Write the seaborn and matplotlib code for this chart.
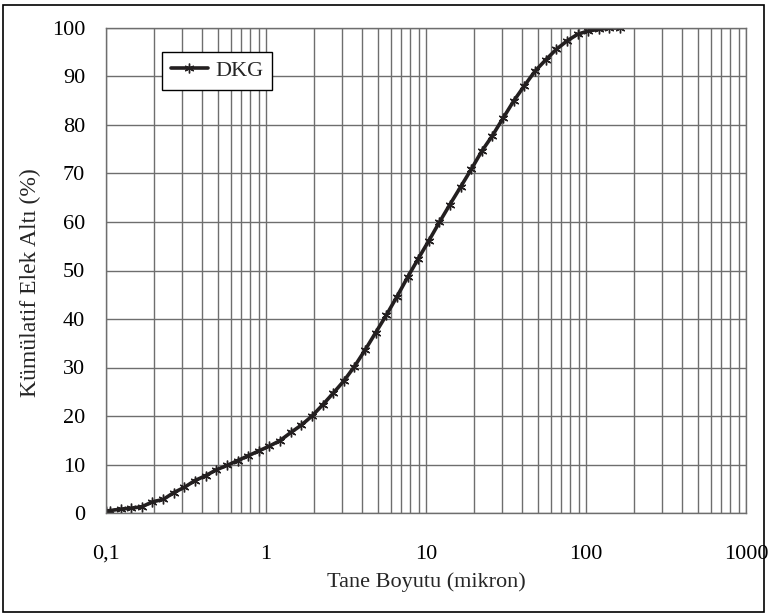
import matplotlib
matplotlib.use("Agg")
import matplotlib.pyplot as plt
import matplotlib.patches as patches
from matplotlib.ticker import FixedLocator, NullFormatter
import seaborn as sns
import pandas as pd

# datos (tamaño de particula en micras y % acumulado)
tane_boyutu = [0.1, 0.106, 0.1235, 0.144, 0.168, 0.195, 0.228, 0.265, 0.309, 0.360,
               0.420, 0.489, 0.570, 0.664, 0.774, 0.902, 1.05, 1.22, 1.43, 1.66,
               1.94, 2.26, 2.63, 3.06, 3.57, 4.16, 4.85, 5.65, 6.58, 7.67,
               8.93, 10.4, 12.1, 14.1, 16.5, 19.2, 22.4, 26.0, 30.3, 35.4,
               41.2, 48.0, 55.9, 65.2, 75.9, 88.5, 103.1, 120.1, 140.0, 163.1]
kumulatif = [0.4, 0.5, 0.8, 1.0, 1.3, 2.3, 2.8, 4.2, 5.3, 6.7,
             7.7, 8.9, 9.8, 10.8, 11.8, 12.8, 13.8, 14.9, 16.6, 18.1,
             20.0, 22.3, 24.7, 27.2, 30.2, 33.6, 37.2, 40.8, 44.6, 48.6,
             52.4, 56.1, 59.9, 63.6, 67.3, 70.9, 74.7, 77.8, 81.4, 85.0,
             88.1, 91.1, 93.4, 95.6, 97.3, 98.7, 99.4, 99.7, 100.0, 100.0]
seri_adi = "DKG"

x_ticks = [0.1, 1, 10, 100, 1000]
x_tick_labels = ["0,1", "1", "10", "100", "1000"]
y_ticks = list(range(0, 101, 10))

df = pd.DataFrame({"x": tane_boyutu, "y": kumulatif})

sns.set_theme(style="white")
plt.rcParams['font.family'] = ['Liberation Serif', 'DejaVu Serif']

fig = plt.figure(figsize=(7.68, 6.15), dpi=100)
ax = fig.add_axes([106 / 768, 1 - 513 / 615, 640 / 768, 485 / 615])

grid_color = "#6e6e6e"
sns.lineplot(data=df, x="x", y="y", ax=ax, color="#231f20", linewidth=2.6,
             marker=(6, 2, 0), markersize=7, markeredgewidth=1.0,
             markeredgecolor="#231f20", label=seri_adi, sort=False)

ax.set_xscale("log")
ax.set_xlim(0.1, 1000)
ax.set_ylim(0, 100)

ax.xaxis.set_major_locator(FixedLocator(x_ticks))
ax.set_xticklabels(x_tick_labels)
minor = [m * 10 ** e for e in range(-1, 3) for m in range(2, 10)]
ax.xaxis.set_minor_locator(FixedLocator(minor))
ax.xaxis.set_minor_formatter(NullFormatter())
ax.set_yticks(y_ticks)

ax.grid(True, which="both", axis="x", color=grid_color, linewidth=1.0)
ax.grid(True, which="major", axis="y", color=grid_color, linewidth=1.0)

ax.tick_params(axis="both", which="major", direction="out", length=6,
               width=1, color=grid_color, labelsize=16, labelcolor="black")
ax.tick_params(axis="x", which="major", pad=17)
ax.tick_params(axis="y", which="major", pad=9)
ax.tick_params(axis="x", which="minor", length=0)

for s in ax.spines.values():
    s.set_color(grid_color)
    s.set_linewidth(1.0)

ax.set_xlabel("Tane Boyutu (mikron)", fontsize=16, labelpad=6)
ax.set_ylabel("Kümülatif Elek Altı (%)", fontsize=17)
ax.yaxis.set_label_coords(-0.102, 0.476)

leg = ax.legend(loc="upper left", bbox_to_anchor=(0.087, 0.951), fontsize=16,
                frameon=True, fancybox=False, framealpha=1, edgecolor="black",
                handlelength=1.7, borderpad=0.4, handletextpad=0.3, borderaxespad=0)
leg.get_frame().set_linewidth(1.0)

# marco exterior de la figura
borde = patches.Rectangle((3 / 768, 3 / 615), 761 / 768, 607 / 615, transform=fig.transFigure,
                          fill=False, edgecolor="black", linewidth=1.2)
fig.patches.append(borde)

fig.savefig("out.png", dpi=100)
